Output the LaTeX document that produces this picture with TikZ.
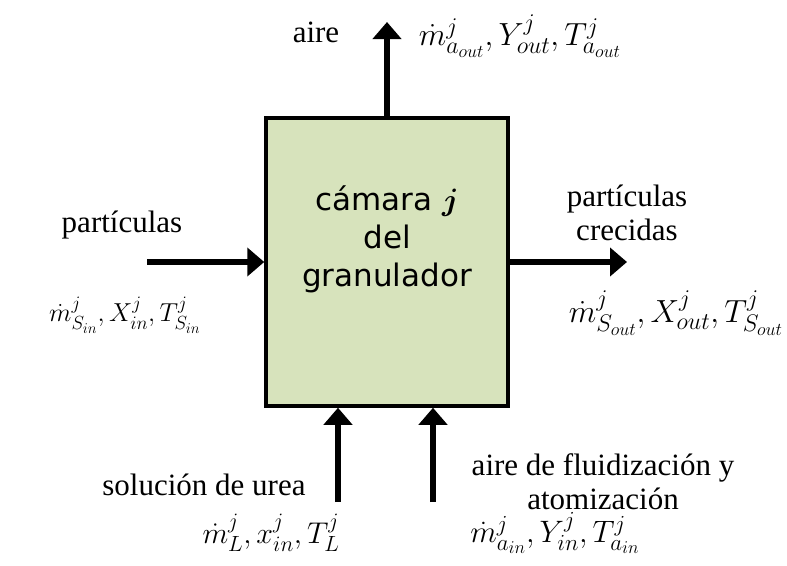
\RequirePackage{fix-cm}
\documentclass[tikz,border=0pt]{standalone}
\usepackage{fontspec}
\setmainfont{Liberation Serif}
\newfontfamily\cajafont{DejaVu Sans}
\usepackage{amsmath}
\usetikzlibrary{arrows.meta, positioning}
\definecolor{verdecaja}{RGB}{215,227,188}
\DeclareMathSizes{26}{26}{19}{15}
\DeclareMathSizes{30}{30}{22}{17}
\DeclareMathSizes{31}{31}{23}{18}
\DeclareMathSizes{32}{32}{24}{18}

\begin{document}
\begin{tikzpicture}[
    x=1pt, y=-1pt,
    camara/.style={rectangle, draw=black, fill=verdecaja, line width=3.5pt, minimum width=242pt, minimum height=288pt, inner sep=0pt},
    caja/.style={font=\cajafont\fontsize{31}{38}\selectfont, align=center, inner sep=0pt},
    etiqueta/.style={font=\fontsize{31}{34}\selectfont, align=center, inner sep=0pt},
    formula/.style={font=\fontsize{#1}{32}\selectfont, inner sep=0pt},
    formula/.default=30,
    flecha/.style={-{Triangle[length=17pt, width=28pt]}, line width=6pt}
]
    \useasboundingbox (0,0) rectangle (787,565);

    \node[camara] (cam) at (387,262) {};
    \node[caja] (nombre) at (387,239) {cámara $\boldsymbol{j}$\\del\\granulador};

    % entradas y salidas
    \coordinate (partin) at (147,262);
    \coordinate (partout) at (627,262);
    \coordinate (aireout) at (387,22);
    \coordinate (urea) at (338,502);
    \coordinate (airein) at (433,502);

    \draw[flecha] (partin) -- (cam.west);
    \draw[flecha] (cam.east) -- (partout);
    \draw[flecha] (cam.north) -- (aireout);
    \draw[flecha] (urea) -- (urea |- cam.south);
    \draw[flecha] (airein) -- (airein |- cam.south);

    % textos
    \node[etiqueta] (laire) at (316,32) {aire};
    \node[formula=32] (faire) at (520,36) {$\dot{m}^{j}_{a_{out}}, Y^{j}_{out}, T^{j}_{a_{out}}$};
    \node[etiqueta] (lpartin) at (122,225) {partículas};
    \node[formula=26] (fpartin) at (125,315) {$\dot{m}^{j}_{S_{in}}, X^{j}_{in}, T^{j}_{S_{in}}$};
    \node[etiqueta] (lpartout) at (627,213) {partículas\\crecidas};
    \node[formula=32] (fpartout) at (676,313) {$\dot{m}^{j}_{S_{out}}, X^{j}_{out}, T^{j}_{S_{out}}$};
    \node[etiqueta] (lurea) at (204,485) {solución de urea};
    \node[formula] (furea) at (271,533) {$\dot{m}^{j}_{L}, x^{j}_{in}, T^{j}_{L}$};
    \node[etiqueta] (lairein) at (603,482) {aire de fluidización y\\atomización};
    \node[formula=31] (fairein) at (555,533) {$\dot{m}^{j}_{a_{in}}, Y^{j}_{in}, T^{j}_{a_{in}}$};
\end{tikzpicture}
\end{document}
